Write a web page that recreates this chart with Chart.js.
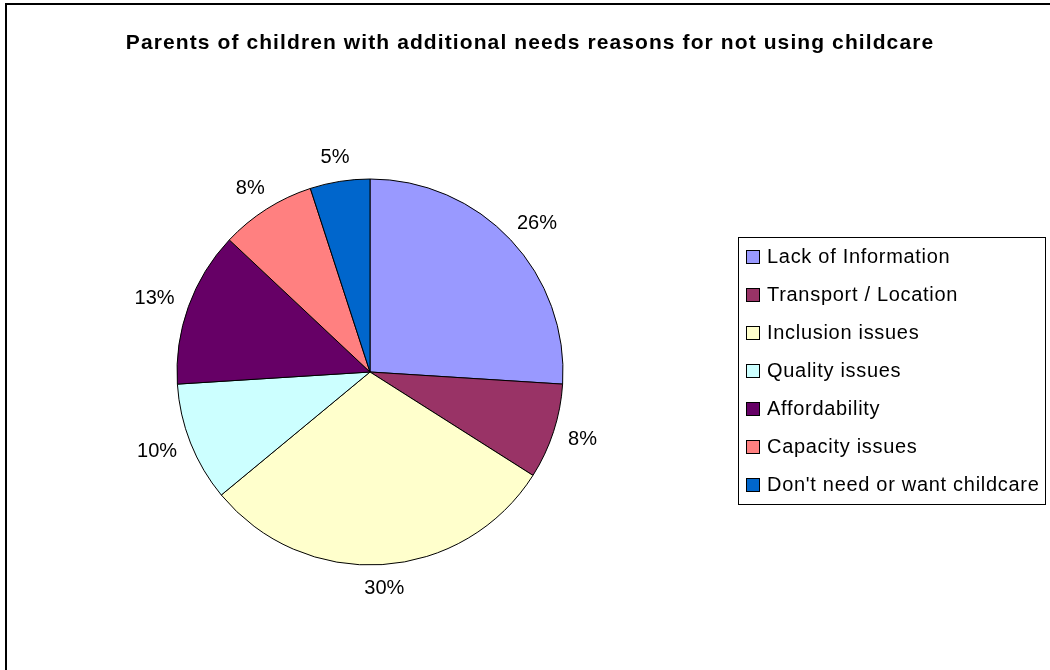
<!DOCTYPE html>
<html>
<head>
<meta charset="utf-8">
<script src="https://cdn.jsdelivr.net/npm/chart.js@4/dist/chart.umd.min.js"></script>
<style>
  body { margin: 0; background: #fff; }
  canvas { display: block; }
</style>
</head>
<body>
<canvas id="pieChart" width="1050" height="670"></canvas>
<script>
// Datos del gráfico
const chartTitle = "Parents of children with additional needs reasons for not using childcare";
const reasons = [
  "Lack of Information",
  "Transport / Location",
  "Inclusion issues",
  "Quality issues",
  "Affordability",
  "Capacity issues",
  "Don't need or want childcare"
];
const percentages = [26, 8, 30, 10, 13, 8, 5];
const sliceColors = ["#9999FF", "#993366", "#FFFFCC", "#CCFFFF", "#660066", "#FF8080", "#0066CC"];

const fontName = "'Liberation Sans', Arial, sans-serif";

// Plugin para título, etiquetas, leyenda y marco
const extrasPlugin = {
  id: "extras",
  afterDraw(chart) {
    const ctx = chart.ctx;
    ctx.save();

    // marco exterior
    ctx.strokeStyle = "#000";
    ctx.lineWidth = 2;
    ctx.strokeRect(6, 4, 1200, 800);

    // título
    ctx.fillStyle = "#000";
    ctx.font = "bold 21px " + fontName;
    ctx.letterSpacing = "1.1px";
    ctx.textAlign = "center";
    ctx.textBaseline = "middle";
    ctx.fillText(chartTitle, 530, 43);
    ctx.letterSpacing = "0px";

    // etiquetas de porcentaje
    const total = percentages.reduce((a, b) => a + b, 0);
    const meta = chart.getDatasetMeta(0);
    ctx.font = "20px " + fontName;
    meta.data.forEach((arc, i) => {
      const p = arc.getProps(["x", "y", "startAngle", "endAngle", "outerRadius"], true);
      const mid = (p.startAngle + p.endAngle) / 2;
      const text = Math.round(percentages[i] / total * 100) + "%";
      const w = ctx.measureText(text).width;
      const h = 16;
      const r = p.outerRadius + 16;
      const cx = p.x + Math.cos(mid) * r + Math.cos(mid) * w / 2;
      const cy = p.y + Math.sin(mid) * r + Math.sin(mid) * h / 2;
      ctx.fillText(text, cx, cy);
    });

    // leyenda
    ctx.lineWidth = 1;
    ctx.strokeRect(738.5, 237.5, 307, 267);
    ctx.textAlign = "left";
    ctx.font = "20px " + fontName;
    ctx.letterSpacing = "0.7px";
    reasons.forEach((label, i) => {
      const y = 257 + i * 38;
      ctx.fillStyle = sliceColors[i];
      ctx.fillRect(746.5, y - 6.5, 13, 13);
      ctx.strokeStyle = "#000";
      ctx.strokeRect(746.5, y - 6.5, 13, 13);
      ctx.fillStyle = "#000";
      ctx.fillText(label, 767, y);
    });

    ctx.restore();
  }
};

new Chart(document.getElementById("pieChart").getContext("2d"), {
  type: "pie",
  data: {
    labels: reasons,
    datasets: [
      {
        data: percentages,
        backgroundColor: sliceColors,
        borderColor: "#000",
        borderWidth: 1,
        radius: 193
      }
    ]
  },
  options: {
    responsive: false,
    devicePixelRatio: 1,
    animation: false,
    events: [],
    layout: {
      padding: { left: 0, right: 310, top: 100, bottom: 26 }
    },
    plugins: {
      legend: { display: false },
      title: { display: false },
      tooltip: { enabled: false }
    }
  },
  plugins: [extrasPlugin]
});
</script>
</body>
</html>
